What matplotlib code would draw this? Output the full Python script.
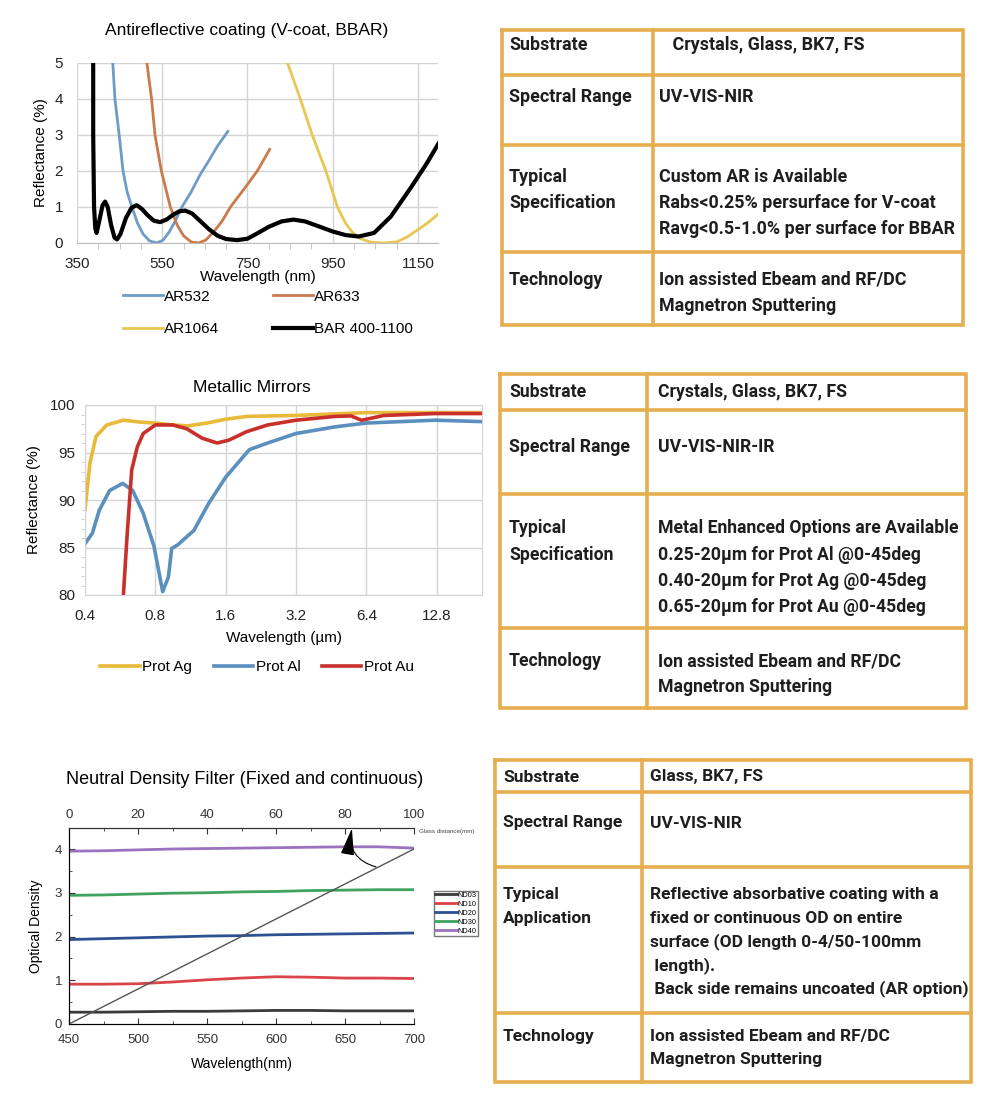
import matplotlib
matplotlib.use('Agg')
import matplotlib.pyplot as plt
from matplotlib.ticker import MultipleLocator, FixedLocator

plt.rcParams['font.family'] = ['Liberation Sans', 'DejaVu Sans']

W, H = 1000, 1101

# ---- chart 1: antireflective coatings ----
ar532_nm = [434, 439, 449, 458, 468, 479, 492, 505, 520, 537, 552, 566, 580, 596, 617, 639, 660, 680, 704]
ar532_r = [5.0, 4.0, 3.0, 2.0, 1.4, 1.0, 0.55, 0.25, 0.06, 0.0, 0.08, 0.3, 0.6, 1.0, 1.4, 1.9, 2.3, 2.7, 3.1]
ar633_nm = [514, 525, 533, 548, 569, 585, 600, 618, 635, 652, 670, 690, 710, 742, 773, 802]
ar633_r = [5.0, 4.0, 3.0, 2.0, 1.0, 0.5, 0.2, 0.03, 0.0, 0.08, 0.3, 0.6, 1.0, 1.5, 2.0, 2.6]
ar1064_nm = [844, 874, 902, 934, 961, 980, 996, 1015, 1040, 1070, 1100, 1125, 1150, 1175, 1200]
ar1064_r = [5.0, 4.0, 3.0, 2.0, 1.0, 0.55, 0.3, 0.12, 0.02, 0.0, 0.03, 0.17, 0.37, 0.58, 0.83]
bar_nm = [388, 388, 390, 393, 396, 402, 410, 416, 422, 430, 438, 444, 452, 465, 478, 490, 502, 515,
          530, 545, 560, 575, 590, 604, 620, 640, 660, 680, 700, 726, 750, 775, 800, 830, 858, 885,
          920, 950, 980, 1011, 1047, 1086, 1134, 1170, 1200]
bar_r = [5.0, 3.0, 1.0, 0.4, 0.28, 0.6, 1.05, 1.15, 1.0, 0.5, 0.15, 0.1, 0.25, 0.7, 0.98, 1.05, 0.95, 0.78,
         0.62, 0.58, 0.65, 0.78, 0.88, 0.9, 0.82, 0.6, 0.38, 0.2, 0.11, 0.08, 0.12, 0.28, 0.45, 0.6, 0.65, 0.6,
         0.45, 0.32, 0.22, 0.18, 0.28, 0.73, 1.55, 2.2, 2.8]

# ---- chart 2: metallic mirrors ----
ag_um = [0.4, 0.42, 0.446, 0.496, 0.584, 0.69, 0.8, 0.95, 1.1, 1.33, 1.6, 1.97, 3.2, 6.4, 20]
ag_r = [89.0, 93.9, 96.7, 97.9, 98.4, 98.2, 98.1, 97.9, 97.8, 98.1, 98.5, 98.8, 98.9, 99.2, 99.2]
al_um = [0.4, 0.43, 0.46, 0.51, 0.58, 0.64, 0.71, 0.79, 0.86, 0.91, 0.94, 1.0, 1.17, 1.35, 1.6, 2.02,
         2.42, 3.2, 4.7, 6.4, 12.6, 20]
al_r = [85.4, 86.5, 88.9, 91.0, 91.75, 91.0, 88.6, 85.1, 80.35, 81.9, 84.9, 85.3, 86.8, 89.6, 92.4, 95.3,
        96.0, 97.0, 97.7, 98.1, 98.4, 98.25]
au_um = [0.584, 0.605, 0.634, 0.67, 0.71, 0.8, 0.95, 1.09, 1.27, 1.47, 1.65, 1.97, 2.42, 3.2, 4.7, 5.5,
         6.1, 6.4, 7.6, 12.6, 20]
au_r = [80.0, 86.1, 93.2, 95.6, 97.0, 97.9, 97.9, 97.5, 96.5, 96.0, 96.3, 97.2, 97.9, 98.4, 98.8, 98.85,
        98.4, 98.5, 98.9, 99.1, 99.1]

# ---- chart 3: neutral density ----
nd_wl = [450, 475, 500, 525, 550, 575, 600, 625, 650, 675, 700]
nd03 = [0.27, 0.27, 0.28, 0.29, 0.29, 0.30, 0.31, 0.31, 0.30, 0.30, 0.30]
nd10 = [0.91, 0.91, 0.92, 0.96, 1.01, 1.05, 1.08, 1.07, 1.05, 1.05, 1.04]
nd20 = [1.93, 1.95, 1.97, 1.99, 2.01, 2.02, 2.04, 2.05, 2.06, 2.07, 2.08]
nd30 = [2.94, 2.95, 2.97, 2.99, 3.00, 3.02, 3.03, 3.05, 3.06, 3.07, 3.07]
nd40 = [3.95, 3.96, 3.98, 4.00, 4.01, 4.02, 4.03, 4.04, 4.05, 4.05, 4.02]
glass_mm = [0, 100]
glass_od = [0, 4]

# ---- tables ----
ar_rows = [("Substrate", ["   Crystals, Glass, BK7, FS"]),
           ("Spectral Range", ["UV-VIS-NIR"]),
           ("Typical\nSpecification", ["Custom AR is Available", "Rabs<0.25% persurface for V-coat",
                                       "Ravg<0.5-1.0% per surface for BBAR"]),
           ("Technology", ["Ion assisted Ebeam and RF/DC", "Magnetron Sputtering"])]
mm_rows = [("Substrate", ["Crystals, Glass, BK7, FS"]),
           ("Spectral Range", ["UV-VIS-NIR-IR"]),
           ("Typical\nSpecification", ["Metal Enhanced Options are Available", "0.25-20µm for Prot Al @0-45deg",
                                       "0.40-20µm for Prot Ag @0-45deg", "0.65-20µm for Prot Au @0-45deg"]),
           ("Technology", ["Ion assisted Ebeam and RF/DC", "Magnetron Sputtering"])]
nd_rows = [("Substrate", ["Glass, BK7, FS"]),
           ("Spectral Range", ["UV-VIS-NIR"]),
           ("Typical\nApplication", ["Reflective absorbative coating with a", "fixed or continuous OD on entire",
                                     "surface (OD length 0-4/50-100mm", " length).",
                                     " Back side remains uncoated (AR option)"]),
           ("Technology", ["Ion assisted Ebeam and RF/DC", "Magnetron Sputtering"])]


fig = plt.figure(figsize=(W / 100, H / 100), dpi=100)


def px_axes(l, t, r, b):
    return fig.add_axes([l / W, 1 - b / H, (r - l) / W, (b - t) / H])


# overlay for the tables
ov = fig.add_axes([0, 0, 1, 1])
ov.set_xlim(0, W)
ov.set_ylim(H, 0)
ov.axis('off')

GOLD = '#e6ae4e'
TFONT = ['Roboto', 'DejaVu Sans']


def draw_table(x0, x1, xc, ys, rows, label_x, text_x, line_gap, fs, row_text_y):
    ov.plot([x0, x1, x1, x0, x0], [ys[0], ys[0], ys[-1], ys[-1], ys[0]], color=GOLD, lw=2.6, solid_joinstyle='miter')
    ov.plot([xc, xc], [ys[0], ys[-1]], color=GOLD, lw=2.6)
    for y in ys[1:-1]:
        ov.plot([x0, x1], [y, y], color=GOLD, lw=2.6)
    for (label, lines), ty in zip(rows, row_text_y):
        for k, part in enumerate(label.split('\n')):
            ov.text(label_x, ty + k * line_gap, part, fontsize=fs, fontweight='bold', color='#1e1e1e',
                    va='center', ha='left', family=TFONT)
        for k, part in enumerate(lines):
            ov.text(text_x, ty + k * line_gap, part, fontsize=fs, fontweight='bold', color='#1e1e1e',
                    va='center', ha='left', family=TFONT)


draw_table(502, 963, 653, [30, 75, 145, 252, 325], ar_rows, 509, 659, 26, 12.9, [45, 97, 177, 280])
draw_table(500, 966, 647, [374, 410, 494, 628, 708], mm_rows, 509, 658, 26.5, 12.7, [392, 447, 528, 661])
draw_table(495, 971, 642, [760, 792, 867, 1013, 1082], nd_rows, 503, 650, 23.5, 12.5, [777, 823, 895, 1036])

# ---------- chart 1 ----------
ax1 = px_axes(77, 63, 438, 243)
l532, = ax1.plot(ar532_nm, ar532_r, color='#6e9cc8', lw=2.0, label='AR532')
l633, = ax1.plot(ar633_nm, ar633_r, color='#c97b4b', lw=2.0, label='AR633')
l1064, = ax1.plot(ar1064_nm, ar1064_r, color='#e8c752', lw=2.0, label='AR1064')
lbar, = ax1.plot(bar_nm, bar_r, color='black', lw=3.0, label='BAR 400-1100')
ax1.set_xlim(350, 1197)
ax1.set_ylim(0, 5)
ax1.set_xticks([350, 550, 750, 950, 1150])
ax1.xaxis.set_minor_locator(MultipleLocator(50))
ax1.set_yticks([0, 1, 2, 3, 4, 5])
ax1.grid(True, color='#d4d4d4', lw=1)
for s in ['top', 'right', 'left']:
    ax1.spines[s].set_visible(False)
ax1.spines['bottom'].set_color('#bdbdbd')
ax1.tick_params(axis='both', labelsize=11, length=0, colors='#222222')
ax1.tick_params(axis='x', pad=10)
ax1.tick_params(axis='y', pad=10)
ax1.tick_params(axis='x', which='minor', length=4, color='#bdbdbd')
ax1.set_title('Antireflective coating (V-coat, BBAR)', fontsize=12.5, pad=20, x=0.47)
ax1.set_xlabel('Wavelength (nm)', fontsize=11, labelpad=-1)
ax1.set_ylabel('Reflectance (%)', fontsize=11, labelpad=5)
ax1.legend([l532, l1064, l633, lbar], ['AR532', 'AR1064', 'AR633', 'BAR 400-1100'],
           ncol=2, loc='center', bbox_to_anchor=(268 / W, 1 - 313 / H), bbox_transform=fig.transFigure,
           frameon=False, fontsize=11, handlelength=2.6, handletextpad=0.1, columnspacing=3.5,
           labelspacing=1.2)

# ---------- chart 2 ----------
ax2 = px_axes(85, 405, 482, 595)
ax2.plot(ag_um, ag_r, color='#e9b93a', lw=2.6, label='Prot Ag')
ax2.plot(al_um, al_r, color='#5b8fbd', lw=2.6, label='Prot Al')
ax2.plot(au_um, au_r, color='#c9302c', lw=2.6, label='Prot Au')
ax2.set_xscale('log', base=2)
ax2.set_xlim(0.4, 20)
ax2.set_ylim(80, 100)
ax2.xaxis.set_major_locator(FixedLocator([0.4, 0.8, 1.6, 3.2, 6.4, 12.8]))
ax2.xaxis.set_minor_locator(FixedLocator([]))
ax2.set_xticklabels(['0.4', '0.8', '1.6', '3.2', '6.4', '12.8'])
ax2.set_yticks([80, 85, 90, 95, 100])
ax2.yaxis.set_minor_locator(MultipleLocator(1))
ax2.grid(True, which='major', color='#d4d4d4', lw=1)
for s in ax2.spines.values():
    s.set_color('#d4d4d4')
ax2.tick_params(axis='both', labelsize=11, length=0, colors='#222222')
ax2.tick_params(axis='x', pad=10)
ax2.tick_params(axis='y', pad=7)
ax2.tick_params(axis='y', which='minor', length=3, color='#cfcfcf')
ax2.set_title('Metallic Mirrors', fontsize=12.5, pad=9, x=0.42)
ax2.set_xlabel('Wavelength (µm)', fontsize=11, labelpad=6)
ax2.set_ylabel('Reflectance (%)', fontsize=11, labelpad=6)
ax2.legend(ncol=3, loc='center', bbox_to_anchor=(257 / W, 1 - 667 / H), bbox_transform=fig.transFigure,
           frameon=False, fontsize=11, handlelength=2.6, handletextpad=0.15, columnspacing=1.4)

# ---------- chart 3 ----------
ax3 = px_axes(69, 828, 414, 1024)
nd_series = [(nd03, '#3a3a3a', 'ND03'), (nd10, '#d9434a', 'ND10'), (nd20, '#2d5193', 'ND20'),
             (nd30, '#3fa35f', 'ND30'), (nd40, '#9a72bd', 'ND40')]
for vals, col, lab in nd_series:
    ax3.plot(nd_wl, vals, color=col, lw=2.0, label=lab)
ax3.set_xlim(450, 700)
ax3.set_ylim(0, 4.48)
ax3.set_xticks([450, 500, 550, 600, 650, 700])
ax3.xaxis.set_minor_locator(MultipleLocator(25))
ax3.set_yticks([0, 1, 2, 3, 4])
ax3.yaxis.set_minor_locator(MultipleLocator(0.5))
ax3.spines['right'].set_visible(False)
for s in ['top', 'bottom', 'left']:
    ax3.spines[s].set_color('#333333')
ax3.tick_params(axis='both', which='major', direction='in', length=4, labelsize=9.5, colors='#333333', pad=5)
ax3.tick_params(axis='x', pad=7)
ax3.tick_params(axis='both', which='minor', direction='in', length=2.5, color='#333333')
ax3.tick_params(axis='y', right=False)
ax3.set_xlabel('Wavelength(nm)', fontsize=10, labelpad=8)
ax3.set_ylabel('Optical Density', fontsize=10, labelpad=8)
ax3.set_title('Neutral Density Filter (Fixed and continuous)', fontsize=13, pad=32, x=0.51)
ax3.legend(loc='upper left', bbox_to_anchor=(430 / W, 1 - 887 / H), bbox_transform=fig.transFigure,
           fontsize=5.3, handlelength=3.0, handletextpad=0.1, labelspacing=0.25, borderpad=0.15,
           fancybox=False, edgecolor='#777777', framealpha=1)

ax3t = ax3.twiny()
ax3t.set_xlim(0, 100)
ax3t.set_xticks([0, 20, 40, 60, 80, 100])
ax3t.xaxis.set_minor_locator(MultipleLocator(10))
ax3t.spines['right'].set_visible(False)
ax3t.spines['top'].set_color('#333333')
ax3t.tick_params(axis='x', which='major', direction='in', length=4, labelsize=9.5, colors='#333333', pad=5)
ax3t.tick_params(axis='x', which='minor', direction='in', length=2.5, color='#333333')
ax3t.plot(glass_mm, glass_od, color='#555555', lw=1.0)
ax3t.annotate('', xy=(82, 4.47), xytext=(89, 3.59),
              arrowprops=dict(arrowstyle='-|>,head_length=1.4,head_width=0.35', connectionstyle='arc3,rad=-0.45',
                              color='black', lw=0.8, shrinkA=0, shrinkB=0, mutation_scale=12))
ax3t.text(101.5, 4.4, 'Glass distance(mm)', fontsize=4.5, color='#444444', va='center', ha='left')

fig.savefig('out.png', dpi=100)
